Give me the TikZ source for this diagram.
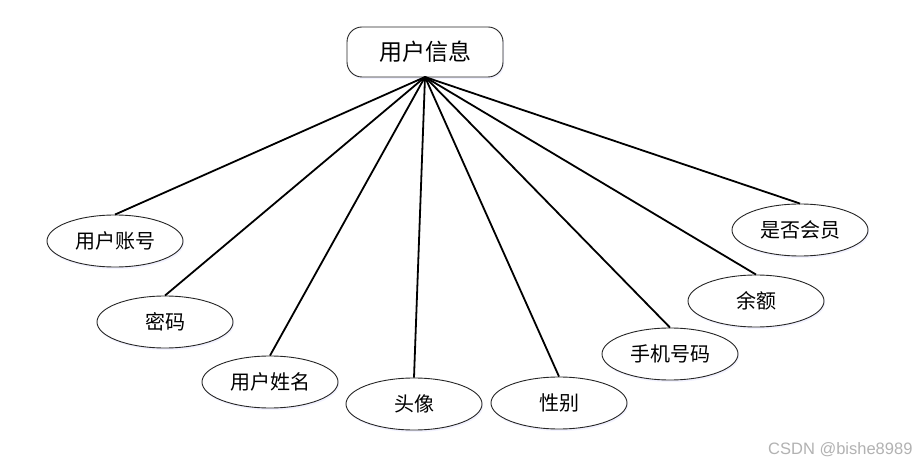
\documentclass[tikz,border=0pt]{standalone}
\usepackage{fontspec}
\newfontfamily\cjk{Noto Sans CJK SC}
\newfontfamily\wmfont{Liberation Sans}
\usetikzlibrary{shapes.geometric,shadows}
\tikzset{
  rootbox/.style={draw=black!85, line width=0.9bp, rounded corners=15bp, fill=white,
    minimum width=156bp, minimum height=50bp, inner sep=0pt,
    font=\cjk\fontsize{23bp}{27bp}\selectfont,
    drop shadow={opacity=0.10, shadow xshift=1bp, shadow yshift=-2bp, fill=blue!50}},
  attr/.style={ellipse, draw=black!85, line width=0.9bp, fill=white,
    minimum width=136bp, minimum height=52bp, inner sep=0pt,
    font=\cjk\fontsize{20bp}{24bp}\selectfont,
    drop shadow={opacity=0.10, shadow xshift=1bp, shadow yshift=-2bp, fill=blue!50}},
  link/.style={line width=1.8bp, black},
}
\begin{document}
\begin{tikzpicture}[x=1bp,y=-1bp]
\useasboundingbox (0,0) rectangle (920,466);
\fill[white] (0,0) rectangle (920,466);
\coordinate (hub) at (425,77);
\node[rootbox] (root) at (425,52) {用户信息};
\node[attr] (a1) at (115,241) {用户账号};
\node[attr] (a2) at (165,322) {密码};
\node[attr] (a3) at (270,382) {用户姓名};
\node[attr] (a4) at (414,404) {头像};
\node[attr] (a5) at (559,403) {性别};
\node[attr] (a6) at (670,354) {手机号码};
\node[attr] (a7) at (756,301) {余额};
\node[attr] (a8) at (800,230) {是否会员};
\foreach \n in {a1,a2,a3,a4,a5,a6,a7,a8}
  \draw[link] (hub) -- (\n.north);
\node[text=black!30, font=\wmfont\fontsize{16.5bp}{19bp}\selectfont, anchor=east] (wm) at (916,450) {CSDN @bishe8989};
\end{tikzpicture}
\end{document}
